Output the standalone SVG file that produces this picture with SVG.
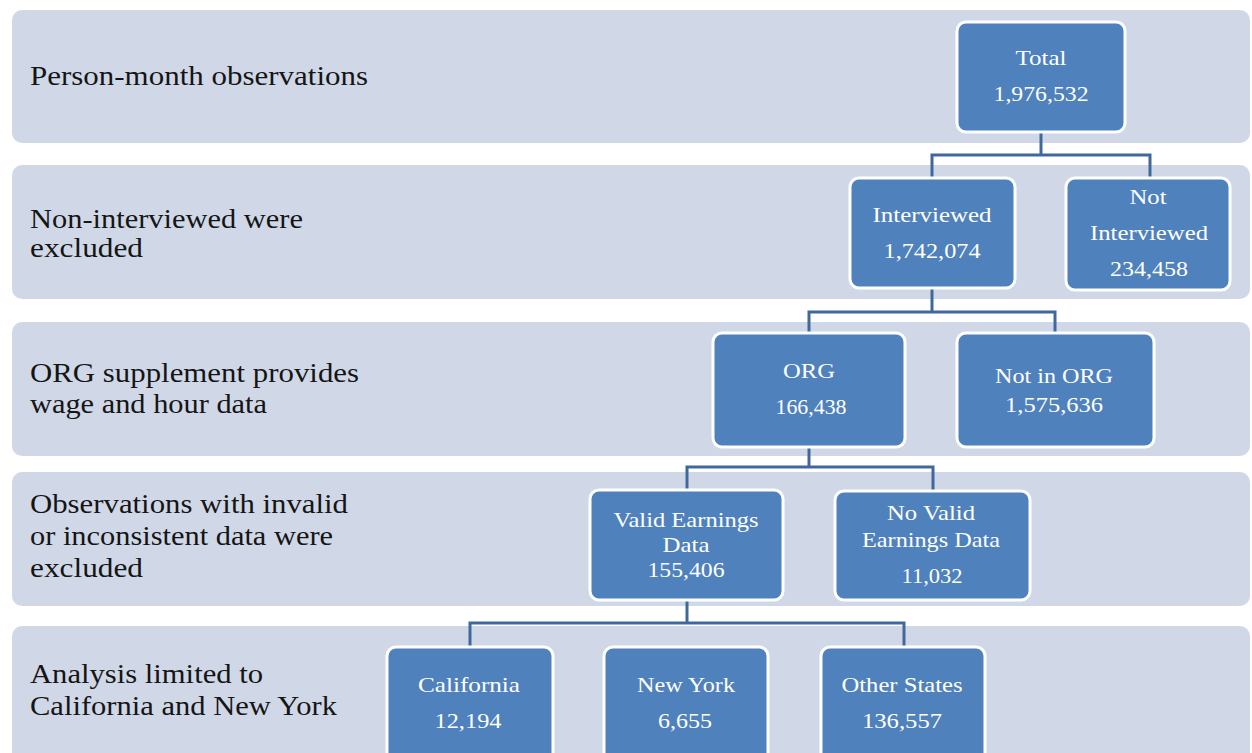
<svg xmlns="http://www.w3.org/2000/svg" width="1252" height="753" viewBox="0 0 1252 753">
<style>
.band{fill:#d0d8e8}
.box{fill:#4f81bd;stroke:#ffffff;stroke-width:3}
.lbl{font-family:'Liberation Serif','DejaVu Serif',serif;font-size:28px;fill:#151515}
.bt{font-family:'Liberation Serif','DejaVu Serif',serif;font-size:22px;fill:#ffffff;text-anchor:middle}
.bs{font-size:21px}
.conn{fill:none;stroke:#41689c;stroke-width:3}
</style>
<rect width="1252" height="753" fill="#ffffff"/>
<g id="bands">
<rect class="band" x="12" y="10" width="1238" height="133" rx="10"/>
<rect class="band" x="12" y="165" width="1238" height="134" rx="10"/>
<rect class="band" x="12" y="322" width="1238" height="134" rx="10"/>
<rect class="band" x="12" y="472" width="1238" height="134" rx="10"/>
<rect class="band" x="12" y="626" width="1238" height="150" rx="10"/>
</g>
<g id="labels" font-family="Liberation Serif, serif">
<text class="lbl" x="30" y="85" textLength="338" lengthAdjust="spacingAndGlyphs">Person-month observations</text>
<text class="lbl" x="30" y="228" textLength="273" lengthAdjust="spacingAndGlyphs">Non-interviewed were</text>
<text class="lbl" x="30" y="257" textLength="113" lengthAdjust="spacingAndGlyphs">excluded</text>
<text class="lbl" x="30" y="382" textLength="329" lengthAdjust="spacingAndGlyphs">ORG supplement provides</text>
<text class="lbl" x="30" y="413" textLength="237" lengthAdjust="spacingAndGlyphs">wage and hour data</text>
<text class="lbl" x="30" y="513" textLength="318" lengthAdjust="spacingAndGlyphs">Observations with invalid</text>
<text class="lbl" x="30" y="545" textLength="303" lengthAdjust="spacingAndGlyphs">or inconsistent data were</text>
<text class="lbl" x="30" y="577" textLength="113" lengthAdjust="spacingAndGlyphs">excluded</text>
<text class="lbl" x="30" y="683" textLength="233" lengthAdjust="spacingAndGlyphs">Analysis limited to</text>
<text class="lbl" x="30" y="715" textLength="307" lengthAdjust="spacingAndGlyphs">California and New York</text>
</g>
<g id="connectors">
<path class="conn" d="M1041 132 V155 M932 178 V155 H1150 V178"/>
<path class="conn" d="M932 288 V312 M809 333 V312 H1055 V333"/>
<path class="conn" d="M809 447 V467 M687 490 V467 H933 V491"/>
<path class="conn" d="M687 600 V623 M470 647 V623 H904 V647"/>
</g>
<g id="total">
<rect class="box" x="957" y="22" width="168" height="110" rx="9"/>
<text class="bt" x="1041" y="65" textLength="51" lengthAdjust="spacingAndGlyphs">Total</text>
<text class="bt" x="1041" y="101" textLength="95" lengthAdjust="spacingAndGlyphs">1,976,532</text>
</g>
<g id="interviewed">
<rect class="box" x="850" y="178" width="165" height="110" rx="9"/>
<text class="bt" x="932" y="222" textLength="119" lengthAdjust="spacingAndGlyphs">Interviewed</text>
<text class="bt" x="932" y="258" textLength="97" lengthAdjust="spacingAndGlyphs">1,742,074</text>
</g>
<g id="not-interviewed">
<rect class="box" x="1066" y="178" width="164" height="112" rx="9"/>
<text class="bt" x="1148" y="204" textLength="37" lengthAdjust="spacingAndGlyphs">Not</text>
<text class="bt" x="1149" y="240" textLength="118" lengthAdjust="spacingAndGlyphs">Interviewed</text>
<text class="bt" x="1149" y="276" textLength="78" lengthAdjust="spacingAndGlyphs">234,458</text>
</g>
<g id="org">
<rect class="box" x="713" y="333" width="192" height="114" rx="9"/>
<text class="bt" x="809" y="378" textLength="52" lengthAdjust="spacingAndGlyphs">ORG</text>
<text class="bt" x="811" y="414" textLength="71" lengthAdjust="spacingAndGlyphs">166,438</text>
</g>
<g id="not-in-org">
<rect class="box" x="957" y="333" width="197" height="114" rx="9"/>
<text class="bt" x="1054" y="383" textLength="118" lengthAdjust="spacingAndGlyphs">Not in ORG</text>
<text class="bt" x="1054" y="412" textLength="98" lengthAdjust="spacingAndGlyphs">1,575,636</text>
</g>
<g id="valid">
<rect class="box" x="590" y="490" width="193" height="110" rx="9"/>
<text class="bt bs" x="686" y="527" textLength="145" lengthAdjust="spacingAndGlyphs">Valid Earnings</text>
<text class="bt bs" x="686" y="552" textLength="47" lengthAdjust="spacingAndGlyphs">Data</text>
<text class="bt bs" x="686" y="577" textLength="77" lengthAdjust="spacingAndGlyphs">155,406</text>
</g>
<g id="no-valid">
<rect class="box" x="835" y="491" width="195" height="109" rx="9"/>
<text class="bt bs" x="931" y="520" textLength="88" lengthAdjust="spacingAndGlyphs">No Valid</text>
<text class="bt bs" x="931" y="547" textLength="138" lengthAdjust="spacingAndGlyphs">Earnings Data</text>
<text class="bt bs" x="932" y="583" textLength="61" lengthAdjust="spacingAndGlyphs">11,032</text>
</g>
<g id="california">
<rect class="box" x="387" y="647" width="166" height="118" rx="9"/>
<text class="bt" x="469" y="692" textLength="102" lengthAdjust="spacingAndGlyphs">California</text>
<text class="bt" x="468" y="728" textLength="67" lengthAdjust="spacingAndGlyphs">12,194</text>
</g>
<g id="new-york">
<rect class="box" x="604" y="647" width="164" height="118" rx="9"/>
<text class="bt" x="686" y="692" textLength="98" lengthAdjust="spacingAndGlyphs">New York</text>
<text class="bt" x="685" y="728" textLength="54" lengthAdjust="spacingAndGlyphs">6,655</text>
</g>
<g id="other-states">
<rect class="box" x="821" y="647" width="164" height="118" rx="9"/>
<text class="bt" x="902" y="692" textLength="121" lengthAdjust="spacingAndGlyphs">Other States</text>
<text class="bt" x="902" y="728" textLength="80" lengthAdjust="spacingAndGlyphs">136,557</text>
</g>
</svg>
